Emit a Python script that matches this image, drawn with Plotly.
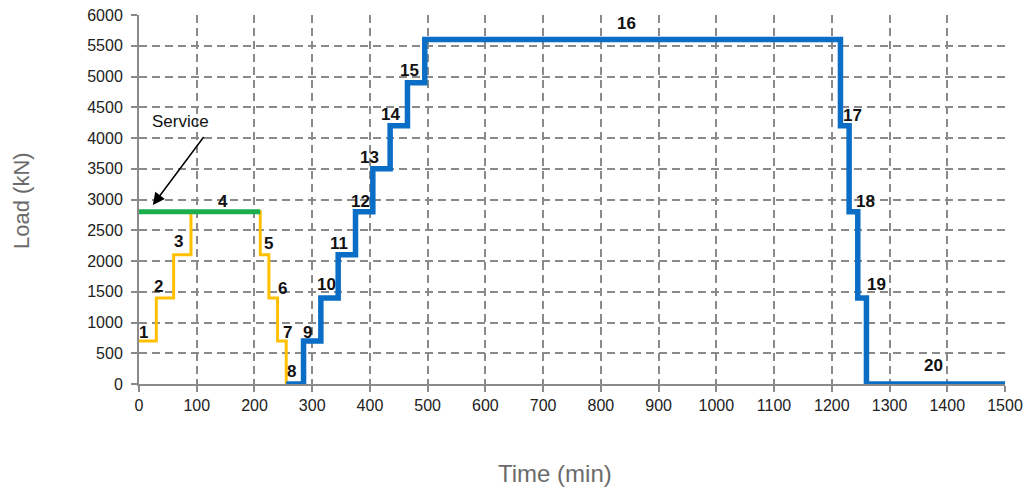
import plotly.graph_objects as go

# Loading stages (time in min, load in kN); each point starts a constant-load step
yellow_time = [0, 30, 60, 90, 210, 225, 240, 255]
yellow_load = [700, 1400, 2100, 2800, 2100, 1400, 700, 0]

service_time = [0, 210]
service_load = [2800, 2800]

blue_time = [255, 285, 315, 345, 375, 405, 435, 465, 495, 1215, 1230, 1245, 1260, 1500]
blue_load = [0, 700, 1400, 2100, 2800, 3500, 4200, 4900, 5600, 4200, 2800, 1400, 0, 0]

# Stage numbers and where they are written
stage_labels = [str(i) for i in range(1, 21)]
stage_x = [7, 33, 69, 145, 225, 248, 258, 265, 291, 324, 346, 383, 400, 435, 469, 845, 1236, 1259, 1278, 1377]
stage_y = [830, 1580, 2310, 2975, 2290, 1545, 830, 210, 830, 1610, 2290, 2975, 3690, 4390, 5090, 5870, 4360, 2960, 1625, 298]

x_ticks = list(range(0, 1501, 100))
y_ticks = list(range(0, 6001, 500))

fig = go.Figure()
fig.add_trace(go.Scatter(x=yellow_time, y=yellow_load, mode="lines", line_shape="hv",
                         line=dict(color="#FFC000", width=3), hoverinfo="skip"))
fig.add_trace(go.Scatter(x=service_time, y=service_load, mode="lines",
                         line=dict(color="#1BAE4B", width=5), hoverinfo="skip"))
fig.add_trace(go.Scatter(x=blue_time, y=blue_load, mode="lines", line_shape="hv",
                         line=dict(color="#0A6EC6", width=5.5), hoverinfo="skip"))

FONT = "Liberation Sans, Arial, sans-serif"

annotations = []
for t, x, y in zip(stage_labels, stage_x, stage_y):
    annotations.append(dict(x=x, y=y, text=f"<b>{t}</b>", showarrow=False,
                            font=dict(family=FONT, size=17, color="#111")))

# Service load pointer
annotations.append(dict(x=72, y=4270, text="Service", showarrow=False,
                        font=dict(family=FONT, size=17, color="#111")))
annotations.append(dict(x=24, y=2910, ax=114, ay=4040, axref="x", ayref="y", text="",
                        showarrow=True, arrowhead=2, arrowsize=1.6, arrowwidth=1.5, arrowcolor="#000"))

# Axis titles
annotations.append(dict(xref="paper", yref="paper", x=(22 - 139) / 866, y=(384 - 200) / 369,
                        xanchor="center", yanchor="middle",
                        text="Load (kN)", textangle=-90, showarrow=False,
                        font=dict(family=FONT, size=22, color="#6b6b6b")))
annotations.append(dict(xref="paper", yref="paper", x=(555 - 139) / 866, y=(384 - 473) / 369,
                        xanchor="center", yanchor="middle",
                        text="Time (min)", showarrow=False,
                        font=dict(family=FONT, size=24, color="#6b6b6b")))

grid = dict(showgrid=True, gridcolor="#8a8a8a", gridwidth=1.5, griddash="8px,5px",
            showline=True, linecolor="#8a8a8a", linewidth=2, zeroline=False,
            ticks="outside", ticklen=6, tickcolor="#8a8a8a", tickwidth=1.5,
            automargin=False)

fig.update_layout(
    width=1028, height=493,
    margin=dict(l=139, r=23, t=15, b=109),
    paper_bgcolor="white", plot_bgcolor="white",
    showlegend=False,
    annotations=annotations,
    xaxis=dict(range=[0, 1500], tickvals=x_ticks, ticktext=[str(v) for v in x_ticks],
               tickfont=dict(family=FONT, size=16, color="#222"),
               **grid),
    yaxis=dict(range=[0, 6000], tickvals=y_ticks, ticktext=[str(v) for v in y_ticks],
               tickfont=dict(family=FONT, size=16, color="#222"),
               ticklabelstandoff=5,
               **grid),
)

fig.write_html("out.html")
